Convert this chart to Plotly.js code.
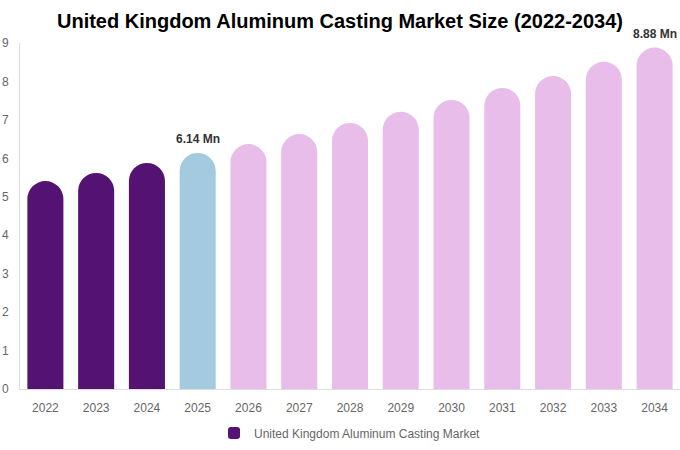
<!DOCTYPE html>
<html>
<head>
<meta charset="utf-8">
<script src="https://cdn.plot.ly/plotly-3.0.1.min.js"></script>
<style>
  html, body { margin: 0; padding: 0; background: #fff; }
  #chart { width: 680px; height: 450px; }
</style>
</head>
<body>
<div id="chart"></div>
<script>
var years = ['2022', '2023', '2024', '2025', '2026', '2027', '2028', '2029', '2030', '2031', '2032', '2033', '2034'];
var sizes = [5.41, 5.62, 5.88, 6.14, 6.37, 6.63, 6.92, 7.21, 7.52, 7.83, 8.14, 8.51, 8.88];
var labels = ['', '', '', '6.14 Mn', '', '', '', '', '', '', '', '', '8.88 Mn'];
var barColors = [];
var notes = [];
for (var iii = 0; iii < years.length; iii++)
{
    if (Number(years[iii]) < 2025) barColors.push('#541373');
    else if (Number(years[iii]) == 2025) barColors.push('#a4cadf');
    else barColors.push('#e8bde9');
    if (labels[iii] != '')
    {
        // on a category axis the annotation x is the category index
        notes.push({
            x: iii, y: sizes[iii], xref: 'x', yref: 'y',
            text: '<b>' + labels[iii] + '</b>',
            showarrow: false, yanchor: 'bottom', yshift: 5,
            font: {family: 'Liberation Sans, Arial, sans-serif', size: 12, color: '#333333'}
        });
    }
}

var trace1 =
{
    x: years,
    y: sizes,
    type: 'bar',
    name: 'United Kingdom Aluminum Casting Market',
    marker: {color: barColors, cornerradius: '50%'},
    cliponaxis: false,
    hoverinfo: 'none'
};

var layout =
{
    width: 680,
    height: 450,
    margin: {l: 20, r: 0, t: 43, b: 61},
    paper_bgcolor: '#ffffff',
    plot_bgcolor: '#ffffff',
    bargap: 0.29,
    showlegend: true,
    annotations: notes,
    title: {
        text: '<b>United Kingdom Aluminum Casting Market Size (2022-2034)</b>',
        font: {family: 'Liberation Sans, Arial, sans-serif', size: 20, color: '#000000'},
        x: 0.5, xanchor: 'center', y: 0.953, yanchor: 'middle'
    },
    font: {family: 'Liberation Sans, Arial, sans-serif', size: 12, color: '#666666'},
    xaxis: {
        type: 'category',
        range: [-0.5, years.length - 0.5],
        showgrid: false,
        showline: true,
        linecolor: '#dddddd',
        linewidth: 1,
        ticks: '',
        automargin: false,
        ticklabelstandoff: 8,
        tickfont: {size: 12, color: '#666666'}
    },
    yaxis: {
        range: [0, 9],
        dtick: 1,
        showgrid: false,
        showline: true,
        linecolor: '#dddddd',
        linewidth: 1,
        zeroline: false,
        ticks: '',
        automargin: false,
        ticklabelstandoff: 8,
        tickfont: {size: 12, color: '#666666'}
    },
    legend: {
        orientation: 'h',
        x: 0.5, xanchor: 'center',
        yref: 'container',
        y: 0.038, yanchor: 'middle',
        font: {size: 12, color: '#666666'}
    }
};

Plotly.newPlot('chart', [trace1], layout, {displayModeBar: false, staticPlot: true});
</script>
</body>
</html>
